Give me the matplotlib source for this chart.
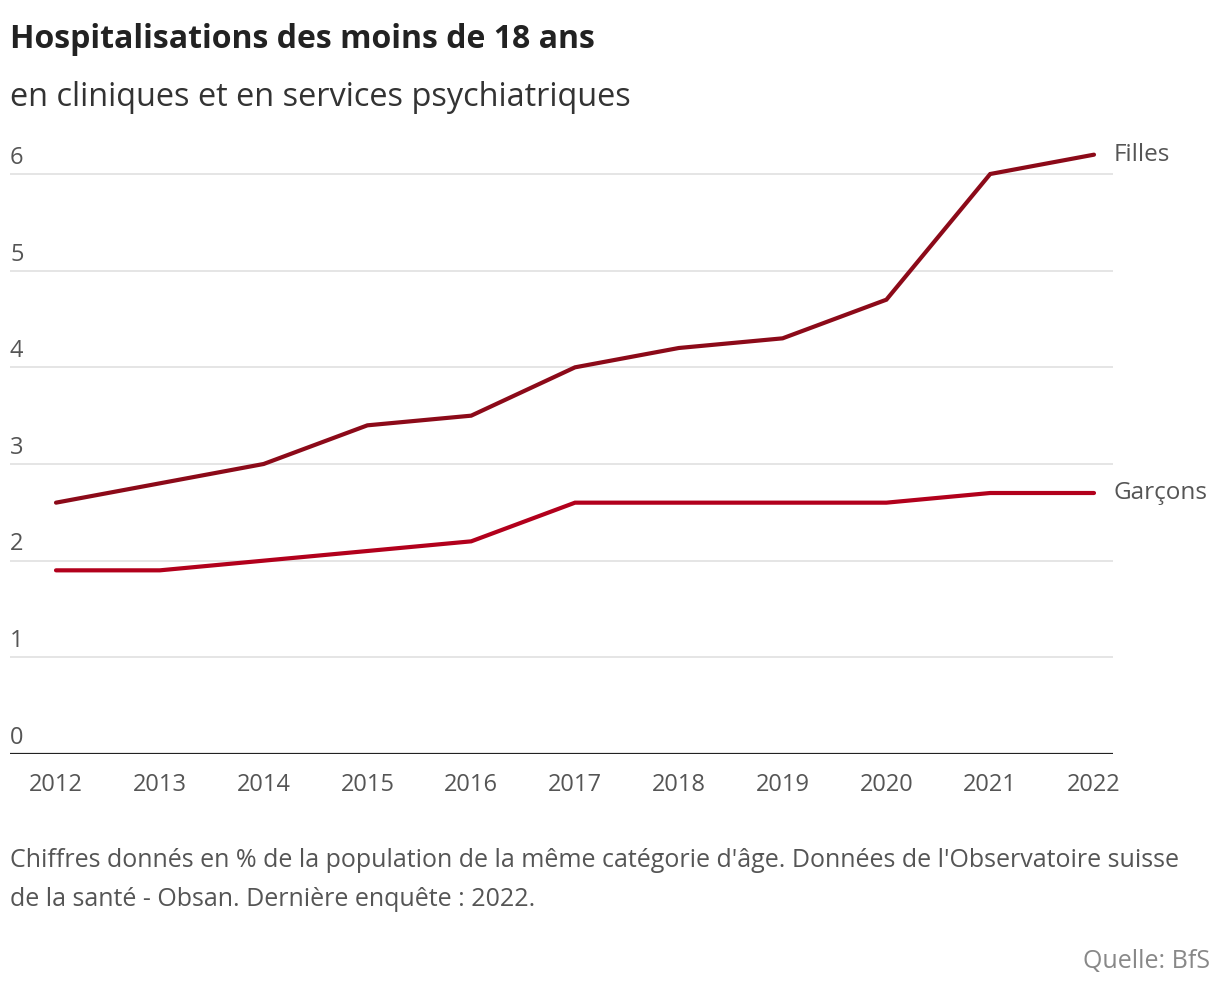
import matplotlib
matplotlib.use("Agg")
import matplotlib.pyplot as plt
from matplotlib import transforms

years = [2012, 2013, 2014, 2015, 2016, 2017, 2018, 2019, 2020, 2021, 2022]
filles = [2.6, 2.8, 3.0, 3.4, 3.5, 4.0, 4.2, 4.3, 4.7, 6.0, 6.2]
garcons = [1.9, 1.9, 2.0, 2.1, 2.2, 2.6, 2.6, 2.6, 2.6, 2.7, 2.7]
yticks = [0, 1, 2, 3, 4, 5, 6]
series_labels = ["Filles", "Garçons"]

FONT = "Open Sans"
W, H = 1220, 990
fig = plt.figure(figsize=(W / 100, H / 100), dpi=100)
left, right, top_px, bottom_px = 10, 1113, 140, 754
ax = fig.add_axes([left / W, 1 - bottom_px / H, (right - left) / W, (bottom_px - top_px) / H])

px_per_year = (1094 - 56) / 10
xmin = 2012 - (56 - left) / px_per_year
xmax = 2022 + (right - 1094) / px_per_year
px_per_unit = (754 - 174) / 6
ymax = (bottom_px - top_px) / px_per_unit
ax.set_xlim(xmin, xmax)
ax.set_ylim(0, ymax)

for v in yticks[1:]:
    ax.axhline(v, color="#e0e0e0", lw=1.2, zorder=1)
ax.axhline(0, color="#222222", lw=1.6, zorder=3)

c_f = "#8c0a19"
c_g = "#b2001c"
ax.plot(years, filles, color=c_f, lw=3, solid_capstyle="round", solid_joinstyle="miter", zorder=4, clip_on=False)
ax.plot(years, garcons, color=c_g, lw=3, solid_capstyle="round", solid_joinstyle="miter", zorder=4, clip_on=False)

ax.annotate(series_labels[0], (years[-1], filles[-1]), xytext=(14, 0), textcoords="offset points",
            va="center", ha="left", fontsize=17.5, color="#555555", family=FONT, annotation_clip=False)
ax.annotate(series_labels[1], (years[-1], garcons[-1]), xytext=(14, 0), textcoords="offset points",
            va="center", ha="left", fontsize=17.5, color="#555555", family=FONT, annotation_clip=False)

trans = transforms.blended_transform_factory(ax.transAxes, ax.transData) + \
    transforms.ScaledTranslation(0, 3 / 72, fig.dpi_scale_trans)
for v in yticks:
    ax.text(0, v, str(v), transform=trans, ha="left", va="bottom", fontsize=17,
            color="#555555", family=FONT)
ax.set_yticks([])

ax.set_xticks(years)
ax.set_xticklabels([str(y) for y in years], fontsize=17, color="#555555", family=FONT)
ax.tick_params(axis="x", length=0, pad=14)

for s in ax.spines.values():
    s.set_visible(False)

fig.text(10 / W, 1 - 40 / H, "Hospitalisations des moins de 18 ans", fontsize=23, fontweight="bold",
         color="#222222", family=FONT, va="center", ha="left")
fig.text(10 / W, 1 - 97 / H, "en cliniques et en services psychiatriques", fontsize=23.4,
         color="#333333", family=FONT, va="center", ha="left")
fig.text(10 / W, 1 - 880 / H,
         "Chiffres donnés en % de la population de la même catégorie d'âge. Données de l'Observatoire suisse\nde la santé - Obsan. Dernière enquête : 2022.",
         fontsize=18, color="#555555", family=FONT, va="center", ha="left", linespacing=1.75)
fig.text(1210 / W, 1 - 962 / H, "Quelle: BfS", fontsize=18, color="#888888", family=FONT,
         va="center", ha="right")

fig.savefig("out.png", dpi=100, facecolor="white")
